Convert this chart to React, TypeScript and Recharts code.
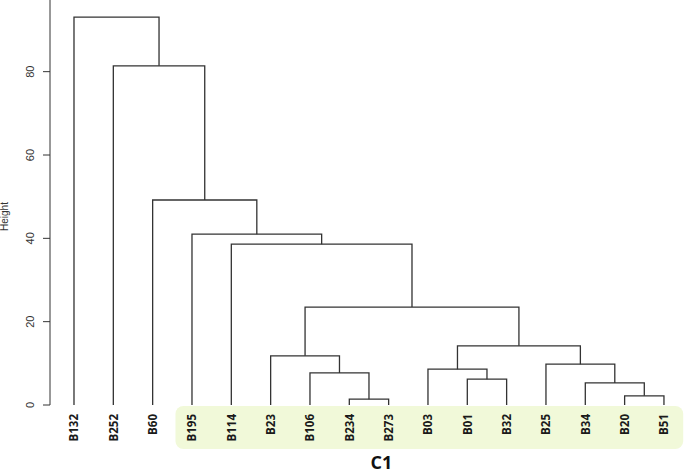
import { LineChart, Line, XAxis, YAxis, ReferenceArea } from "recharts"

// leaves in dendrogram order (left to right)
const leafLabels = ["B132", "B252", "B60", "B195", "B114", "B23", "B106", "B234", "B273", "B03", "B01", "B32", "B25", "B34", "B20", "B51"]

// hclust-style merges: negative = leaf position, positive = earlier merge (1-based)
const mergeLeft = [-8, -15, -14, -11, -7, -10, -13, -6, 6, 8, -5, -4, -3, -2, -1]
const mergeRight = [-9, -16, 2, -12, 1, 4, 3, 5, 7, 9, 10, 11, 12, 13, 14]
const mergeHeights = [1.4, 2.2, 5.3, 6.2, 7.7, 8.6, 9.8, 11.8, 14.2, 23.5, 38.6, 41.0, 49.2, 81.4, 93.1]

const yTicks = [0, 20, 40, 60, 80]
const groupName = "C1"
const highlightFrom = 4 // B195
const highlightTo = 16 // B51

type Pt = { x: number; y: number }

function buildLinks(): Pt[][] {
  const mx: number[] = []
  const pos = (ref: number): Pt => (ref < 0 ? { x: -ref, y: 0 } : { x: mx[ref - 1], y: mergeHeights[ref - 1] })
  const links: Pt[][] = []
  mergeHeights.forEach((h, i) => {
    const l = pos(mergeLeft[i])
    const r = pos(mergeRight[i])
    mx.push((l.x + r.x) / 2)
    links.push([l, { x: l.x, y: h }, { x: r.x, y: h }, r])
  })
  return links
}

const links = buildLinks()

const LeafTick = (props: any) => {
  const { x, y, payload } = props
  const bx = x + 4.3
  const by = y + 9
  return (
    <text x={bx} y={by} transform={`rotate(-90, ${bx}, ${by})`} textAnchor="end"
      fontFamily="Open Sans" fontWeight="bold" fontSize={11.5} fill="#1a1a1a">
      {leafLabels[payload.value - 1]}
    </text>
  )
}

const HeightTick = (props: any) => {
  const { x, y, payload } = props
  const bx = x - 7
  return (
    <text x={bx} y={y} transform={`rotate(-90, ${bx}, ${y})`} textAnchor="middle"
      fontFamily="Liberation Sans" fontSize={11} fill="#333">
      {payload.value}
    </text>
  )
}

export default function App() {
  return (
    <div style={{ position: "absolute", left: 0, top: 0, background: "#fff" }}>
      <LineChart width={685} height={475} margin={{ top: 0, right: 0, bottom: 0, left: 0 }}>
        <ReferenceArea x1={highlightFrom - 0.42} x2={highlightTo + 0.49} y1={-0.24} y2={-10.56}
          ifOverflow="visible" fill="#f1f9d9" fillOpacity={1} stroke="none" radius={8} />
        <XAxis type="number" dataKey="x" domain={[0.39, 16.535]} allowDataOverflow
          ticks={leafLabels.map((_, i) => i + 1)} interval={0} tick={<LeafTick />}
          tickLine={false} axisLine={false} tickSize={0} tickMargin={0} height={70}
          label={{ value: groupName, position: "insideBottom", offset: 6, dx: 14, fill: "#111",
            fontSize: 18, fontWeight: "bold", fontFamily: "Open Sans" }} />
        <YAxis type="number" domain={[0, 97.2]} allowDataOverflow ticks={yTicks} width={50}
          tick={<HeightTick />} tickSize={7} tickMargin={2}
          axisLine={{ stroke: "#333" }} tickLine={{ stroke: "#333" }}
          label={{
            content: (p: any) => {
              const vb = p.viewBox
              const cx = 8
              const cy = vb.y + vb.height / 2 + 14
              return (
                <text x={cx} y={cy} transform={`rotate(-90, ${cx}, ${cy})`} textAnchor="middle"
                  fontFamily="Liberation Sans" fontSize={10} fill="#333">Height</text>
              )
            },
          }} />
        {links.map((seg, i) => (
          <Line key={i} data={seg} dataKey="y" type="linear" stroke="#333" strokeWidth={1.3}
            dot={false} activeDot={false} isAnimationActive={false} />
        ))}
      </LineChart>
    </div>
  )
}
